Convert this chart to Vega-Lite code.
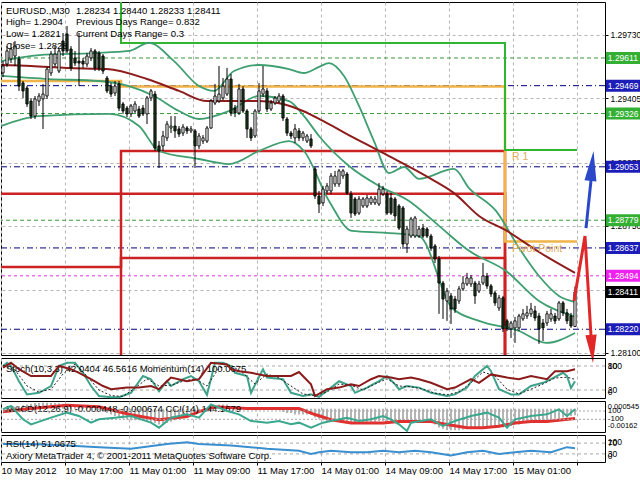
{
"$schema":"https://vega.github.io/schema/vega-lite/v6.json",
"background":"white",
"padding":{"left":-4,"top":1,"right":0,"bottom":0},
"spacing":3,
"bounds":"flush",
"config":{"view":{"stroke":"black","strokeWidth":1},"font":"Liberation Sans","scale":{"continuousPadding":0},"axis":{"labelFont":"Liberation Sans","labelFontSize":9.5,"labelColor":"black","tickColor":"black","gridColor":"#b4b4b4","gridDash":[3,3],"gridWidth":1,"domain":false},"text":{"font":"Liberation Sans","fontSize":9.5}},
"datasets":{
"candles":[
{"i":0,"o":1.29534,"h":1.29595,"l":1.29513,"c":1.29570},{"i":1,"o":1.29580,"h":1.29672,"l":1.29565,"c":1.29647},{"i":2,"o":1.29606,"h":1.29683,"l":1.29585,"c":1.29657},{"i":3,"o":1.29621,"h":1.29698,"l":1.29570,"c":1.29672},{"i":4,"o":1.29606,"h":1.29621,"l":1.29442,"c":1.29467},{"i":5,"o":1.29483,"h":1.29493,"l":1.29406,"c":1.29442},{"i":6,"o":1.29457,"h":1.29467,"l":1.29360,"c":1.29375},{"i":7,"o":1.29390,"h":1.29406,"l":1.29298,"c":1.29313},{"i":8,"o":1.29313,"h":1.29416,"l":1.29298,"c":1.29401},{"i":9,"o":1.29390,"h":1.29431,"l":1.29365,"c":1.29416},
{"i":10,"o":1.29401,"h":1.29478,"l":1.29247,"c":1.29426},{"i":11,"o":1.29416,"h":1.29565,"l":1.29401,"c":1.29554},{"i":12,"o":1.29534,"h":1.29647,"l":1.29519,"c":1.29631},{"i":13,"o":1.29580,"h":1.29672,"l":1.29565,"c":1.29631},{"i":14,"o":1.29544,"h":1.29657,"l":1.29534,"c":1.29647},{"i":15,"o":1.29698,"h":1.29739,"l":1.29621,"c":1.29647},{"i":16,"o":1.29734,"h":1.29775,"l":1.29636,"c":1.29647},{"i":17,"o":1.29657,"h":1.29672,"l":1.29544,"c":1.29560},{"i":18,"o":1.29611,"h":1.29647,"l":1.29570,"c":1.29585},{"i":19,"o":1.29595,"h":1.29739,"l":1.29467,"c":1.29585},
{"i":20,"o":1.29595,"h":1.29611,"l":1.29560,"c":1.29580},{"i":21,"o":1.29580,"h":1.29636,"l":1.29565,"c":1.29621},{"i":22,"o":1.29611,"h":1.29662,"l":1.29595,"c":1.29647},{"i":23,"o":1.29647,"h":1.29657,"l":1.29544,"c":1.29560},{"i":24,"o":1.29636,"h":1.29647,"l":1.29544,"c":1.29560},{"i":25,"o":1.29621,"h":1.29631,"l":1.29529,"c":1.29544},{"i":26,"o":1.29508,"h":1.29519,"l":1.29431,"c":1.29442},{"i":27,"o":1.29467,"h":1.29483,"l":1.29411,"c":1.29426},{"i":28,"o":1.29431,"h":1.29493,"l":1.29416,"c":1.29467},{"i":29,"o":1.29478,"h":1.29493,"l":1.29339,"c":1.29354},
{"i":30,"o":1.29375,"h":1.29385,"l":1.29324,"c":1.29339},{"i":31,"o":1.29354,"h":1.29365,"l":1.29308,"c":1.29324},{"i":32,"o":1.29324,"h":1.29375,"l":1.29308,"c":1.29365},{"i":33,"o":1.29339,"h":1.29390,"l":1.29329,"c":1.29375},{"i":34,"o":1.29349,"h":1.29365,"l":1.29303,"c":1.29313},{"i":35,"o":1.29354,"h":1.29370,"l":1.29313,"c":1.29324},{"i":36,"o":1.29324,"h":1.29416,"l":1.29272,"c":1.29406},{"i":37,"o":1.29406,"h":1.29452,"l":1.29390,"c":1.29442},{"i":38,"o":1.29426,"h":1.29442,"l":1.29134,"c":1.29149},{"i":39,"o":1.29160,"h":1.29185,"l":1.29047,"c":1.29134},
{"i":40,"o":1.29160,"h":1.29237,"l":1.29134,"c":1.29211},{"i":41,"o":1.29201,"h":1.29288,"l":1.29185,"c":1.29272},{"i":42,"o":1.29252,"h":1.29313,"l":1.29226,"c":1.29262},{"i":43,"o":1.29262,"h":1.29313,"l":1.29201,"c":1.29237},{"i":44,"o":1.29247,"h":1.29262,"l":1.29206,"c":1.29221},{"i":45,"o":1.29226,"h":1.29272,"l":1.29211,"c":1.29257},{"i":46,"o":1.29252,"h":1.29262,"l":1.29221,"c":1.29237},{"i":47,"o":1.29237,"h":1.29262,"l":1.29226,"c":1.29247},{"i":48,"o":1.29237,"h":1.29247,"l":1.29047,"c":1.29160},{"i":49,"o":1.29160,"h":1.29226,"l":1.29144,"c":1.29211},
{"i":50,"o":1.29185,"h":1.29216,"l":1.29170,"c":1.29201},{"i":51,"o":1.29185,"h":1.29262,"l":1.29175,"c":1.29252},{"i":52,"o":1.29252,"h":1.29401,"l":1.29247,"c":1.29390},{"i":53,"o":1.29380,"h":1.29478,"l":1.29370,"c":1.29416},{"i":54,"o":1.29390,"h":1.29570,"l":1.29380,"c":1.29426},{"i":55,"o":1.29406,"h":1.29508,"l":1.29395,"c":1.29467},{"i":56,"o":1.29426,"h":1.29560,"l":1.29416,"c":1.29503},{"i":57,"o":1.29503,"h":1.29529,"l":1.29313,"c":1.29329},{"i":58,"o":1.29354,"h":1.29370,"l":1.29308,"c":1.29329},{"i":59,"o":1.29329,"h":1.29478,"l":1.29319,"c":1.29452},
{"i":60,"o":1.29452,"h":1.29467,"l":1.29329,"c":1.29339},{"i":61,"o":1.29339,"h":1.29349,"l":1.29201,"c":1.29247},{"i":62,"o":1.29247,"h":1.29257,"l":1.29185,"c":1.29201},{"i":63,"o":1.29211,"h":1.29349,"l":1.29201,"c":1.29339},{"i":64,"o":1.29339,"h":1.29483,"l":1.29329,"c":1.29442},{"i":65,"o":1.29426,"h":1.29570,"l":1.29411,"c":1.29452},{"i":66,"o":1.29442,"h":1.29457,"l":1.29334,"c":1.29349},{"i":67,"o":1.29349,"h":1.29395,"l":1.29339,"c":1.29380},{"i":68,"o":1.29380,"h":1.29416,"l":1.29370,"c":1.29406},{"i":69,"o":1.29390,"h":1.29431,"l":1.29380,"c":1.29416},
{"i":70,"o":1.29416,"h":1.29426,"l":1.29288,"c":1.29303},{"i":71,"o":1.29298,"h":1.29308,"l":1.29211,"c":1.29226},{"i":72,"o":1.29226,"h":1.29237,"l":1.29196,"c":1.29211},{"i":73,"o":1.29201,"h":1.29272,"l":1.29175,"c":1.29247},{"i":74,"o":1.29237,"h":1.29252,"l":1.29185,"c":1.29201},{"i":75,"o":1.29201,"h":1.29237,"l":1.29185,"c":1.29226},{"i":76,"o":1.29185,"h":1.29221,"l":1.29175,"c":1.29211},{"i":77,"o":1.29196,"h":1.29221,"l":1.29149,"c":1.29160},{"i":78,"o":1.29042,"h":1.29052,"l":1.28888,"c":1.28903},{"i":79,"o":1.28903,"h":1.28929,"l":1.28816,"c":1.28862},
{"i":80,"o":1.28868,"h":1.28955,"l":1.28852,"c":1.28939},{"i":81,"o":1.28929,"h":1.28970,"l":1.28914,"c":1.28955},{"i":82,"o":1.28929,"h":1.29021,"l":1.28914,"c":1.29006},{"i":83,"o":1.28965,"h":1.29032,"l":1.28950,"c":1.29006},{"i":84,"o":1.28965,"h":1.29042,"l":1.28950,"c":1.29032},{"i":85,"o":1.29006,"h":1.29042,"l":1.28991,"c":1.29032},{"i":86,"o":1.29016,"h":1.29026,"l":1.28909,"c":1.28919},{"i":87,"o":1.28914,"h":1.28929,"l":1.28791,"c":1.28816},{"i":88,"o":1.28888,"h":1.28898,"l":1.28801,"c":1.28811},{"i":89,"o":1.28816,"h":1.28903,"l":1.28806,"c":1.28888},
{"i":90,"o":1.28852,"h":1.28898,"l":1.28842,"c":1.28888},{"i":91,"o":1.28852,"h":1.28909,"l":1.28842,"c":1.28893},{"i":92,"o":1.28868,"h":1.28903,"l":1.28857,"c":1.28893},{"i":93,"o":1.28868,"h":1.28903,"l":1.28857,"c":1.28888},{"i":94,"o":1.28862,"h":1.28970,"l":1.28852,"c":1.28939},{"i":95,"o":1.28914,"h":1.28955,"l":1.28903,"c":1.28939},{"i":96,"o":1.28914,"h":1.28929,"l":1.28806,"c":1.28816},{"i":97,"o":1.28893,"h":1.28919,"l":1.28806,"c":1.28816},{"i":98,"o":1.28888,"h":1.28898,"l":1.28775,"c":1.28801},{"i":99,"o":1.28852,"h":1.28862,"l":1.28729,"c":1.28739},
{"i":100,"o":1.28842,"h":1.28852,"l":1.28632,"c":1.28657},{"i":101,"o":1.28657,"h":1.28750,"l":1.28611,"c":1.28734},{"i":102,"o":1.28698,"h":1.28796,"l":1.28688,"c":1.28785},{"i":103,"o":1.28698,"h":1.28801,"l":1.28688,"c":1.28791},{"i":104,"o":1.28698,"h":1.28750,"l":1.28688,"c":1.28734},{"i":105,"o":1.28739,"h":1.28760,"l":1.28688,"c":1.28698},{"i":106,"o":1.28734,"h":1.28744,"l":1.28688,"c":1.28698},{"i":107,"o":1.28698,"h":1.28709,"l":1.28622,"c":1.28637},{"i":108,"o":1.28647,"h":1.28657,"l":1.28560,"c":1.28581},{"i":109,"o":1.28581,"h":1.28596,"l":1.28299,"c":1.28457},
{"i":110,"o":1.28457,"h":1.28468,"l":1.28273,"c":1.28375},{"i":111,"o":1.28365,"h":1.28432,"l":1.28263,"c":1.28416},{"i":112,"o":1.28391,"h":1.28406,"l":1.28247,"c":1.28324},{"i":113,"o":1.28375,"h":1.28391,"l":1.28304,"c":1.28324},{"i":114,"o":1.28365,"h":1.28442,"l":1.28350,"c":1.28427},{"i":115,"o":1.28427,"h":1.28493,"l":1.28416,"c":1.28457},{"i":116,"o":1.28452,"h":1.28509,"l":1.28442,"c":1.28483},{"i":117,"o":1.28452,"h":1.28498,"l":1.28437,"c":1.28483},{"i":118,"o":1.28457,"h":1.28468,"l":1.28350,"c":1.28391},{"i":119,"o":1.28416,"h":1.28468,"l":1.28406,"c":1.28452},
{"i":120,"o":1.28457,"h":1.28560,"l":1.28447,"c":1.28493},{"i":121,"o":1.28493,"h":1.28509,"l":1.28427,"c":1.28442},{"i":122,"o":1.28442,"h":1.28452,"l":1.28386,"c":1.28401},{"i":123,"o":1.28406,"h":1.28416,"l":1.28340,"c":1.28355},{"i":124,"o":1.28329,"h":1.28396,"l":1.28314,"c":1.28381},{"i":125,"o":1.28381,"h":1.28391,"l":1.28206,"c":1.28222},{"i":126,"o":1.28263,"h":1.28273,"l":1.28211,"c":1.28222},{"i":127,"o":1.28222,"h":1.28263,"l":1.28175,"c":1.28252},{"i":128,"o":1.28227,"h":1.28283,"l":1.28150,"c":1.28263},{"i":129,"o":1.28227,"h":1.28299,"l":1.28211,"c":1.28288},
{"i":130,"o":1.28273,"h":1.28324,"l":1.28263,"c":1.28299},{"i":131,"o":1.28288,"h":1.28340,"l":1.28273,"c":1.28304},{"i":132,"o":1.28299,"h":1.28355,"l":1.28283,"c":1.28324},{"i":133,"o":1.28314,"h":1.28340,"l":1.28263,"c":1.28278},{"i":134,"o":1.28288,"h":1.28304,"l":1.28145,"c":1.28222},{"i":135,"o":1.28252,"h":1.28273,"l":1.28160,"c":1.28227},{"i":136,"o":1.28252,"h":1.28314,"l":1.28237,"c":1.28299},{"i":137,"o":1.28273,"h":1.28324,"l":1.28258,"c":1.28299},{"i":138,"o":1.28288,"h":1.28304,"l":1.28247,"c":1.28263},{"i":139,"o":1.28273,"h":1.28365,"l":1.28263,"c":1.28355},
{"i":140,"o":1.28355,"h":1.28365,"l":1.28288,"c":1.28304},{"i":141,"o":1.28304,"h":1.28324,"l":1.28247,"c":1.28263},{"i":142,"o":1.28288,"h":1.28304,"l":1.28227,"c":1.28237},{"i":143,"o":1.28234,"h":1.28440,"l":1.28233,"c":1.28411}
],
"tags":[{"p":1.29611,"k":"green"},{"p":1.29469,"k":"navy"},{"p":1.29326,"k":"green"},{"p":1.29053,"k":"navy"},{"p":1.28779,"k":"green"},{"p":1.28637,"k":"navy"},{"p":1.28494,"k":"magenta"},{"p":1.28411,"k":"black"},{"p":1.28220,"k":"navy"}],
"pivots":[
{"lvl":"R1","i":-0.5,"p":1.3010},{"lvl":"R1","i":29.5,"p":1.29688},{"lvl":"R1","i":125.5,"p":1.29139},{"lvl":"R1","i":143.5,"p":1.29139},
{"lvl":"PP","i":-0.5,"p":1.29493},{"lvl":"PP","i":29.5,"p":1.29465},{"lvl":"PP","i":125.5,"p":1.28670},{"lvl":"PP","i":143.5,"p":1.28670},
{"lvl":"S1","i":-0.5,"p":1.28915},{"lvl":"S1","i":29.5,"p":1.29134},{"lvl":"S1","i":125.5,"p":1.2795},{"lvl":"S1","i":143.5,"p":1.2795},
{"lvl":"S2","i":-0.5,"p":1.28539},{"lvl":"S2","i":29.5,"p":1.28915},{"lvl":"S2","i":125.5,"p":1.2775},{"lvl":"S2","i":143.5,"p":1.2775},
{"lvl":"S3","i":-0.5,"p":1.2790},{"lvl":"S3","i":29.5,"p":1.28586},{"lvl":"S3","i":125.5,"p":1.2755},{"lvl":"S3","i":143.5,"p":1.2755}
],
"bands":[
{"s":"U","i":-0.5,"p":1.29595},{"s":"U","i":9,"p":1.29626},{"s":"U","i":22.75,"p":1.29636},{"s":"U","i":31.5,"p":1.29647},{"s":"U","i":36.5,"p":1.29688},{"s":"U","i":42.75,"p":1.29595},{"s":"U","i":49,"p":1.29467},{"s":"U","i":52.75,"p":1.29442},{"s":"U","i":57.75,"p":1.29544},{"s":"U","i":64,"p":1.29575},{"s":"U","i":71.5,"p":1.29554},{"s":"U","i":75.25,"p":1.29534},{"s":"U","i":79,"p":1.29565},{"s":"U","i":81.5,"p":1.29585},{"s":"U","i":85.25,"p":1.29519},{"s":"U","i":89,"p":1.29365},{"s":"U","i":92.75,"p":1.29185},{"s":"U","i":96.5,"p":1.29021},{"s":"U","i":100.25,"p":1.29052},{"s":"U","i":104,"p":1.28991},{"s":"U","i":112.75,"p":1.29042},{"s":"U","i":116.5,"p":1.28944},{"s":"U","i":123.25,"p":1.28827},{"s":"U","i":129,"p":1.28637},{"s":"U","i":134,"p":1.28493},{"s":"U","i":139,"p":1.28391},{"s":"U","i":143,"p":1.28360},
{"s":"M","i":-0.5,"p":1.29519},{"s":"M","i":11.5,"p":1.29503},{"s":"M","i":24,"p":1.29493},{"s":"M","i":31.5,"p":1.29467},{"s":"M","i":37.75,"p":1.29416},{"s":"M","i":44,"p":1.29339},{"s":"M","i":49,"p":1.29298},{"s":"M","i":56.5,"p":1.29339},{"s":"M","i":64,"p":1.29416},{"s":"M","i":71.5,"p":1.29390},{"s":"M","i":75.25,"p":1.29313},{"s":"M","i":79,"p":1.29211},{"s":"M","i":86.5,"p":1.29057},{"s":"M","i":94,"p":1.28955},{"s":"M","i":101.5,"p":1.28878},{"s":"M","i":109,"p":1.28750},{"s":"M","i":116.5,"p":1.28622},{"s":"M","i":125.75,"p":1.28519},{"s":"M","i":134,"p":1.28365},{"s":"M","i":143,"p":1.28285},
{"s":"L","i":-0.5,"p":1.29262},{"s":"L","i":9,"p":1.29313},{"s":"L","i":26.5,"p":1.29324},{"s":"L","i":34,"p":1.29262},{"s":"L","i":39,"p":1.29134},{"s":"L","i":49,"p":1.29093},{"s":"L","i":56.5,"p":1.29067},{"s":"L","i":64,"p":1.29134},{"s":"L","i":71.5,"p":1.29185},{"s":"L","i":75.25,"p":1.29134},{"s":"L","i":81.5,"p":1.28878},{"s":"L","i":87.25,"p":1.28724},{"s":"L","i":95.75,"p":1.28714},{"s":"L","i":104,"p":1.28698},{"s":"L","i":112.25,"p":1.28329},{"s":"L","i":119,"p":1.28263},{"s":"L","i":129,"p":1.28211},{"s":"L","i":135.75,"p":1.28150},{"s":"L","i":143,"p":1.28201}
],
"ma":[{"i":-0.5,"p":1.29575},{"i":7,"p":1.29570},{"i":16,"p":1.29560},{"i":26,"p":1.29554},{"i":36,"p":1.29503},{"i":44,"p":1.29442},{"i":51,"p":1.29390},{"i":64,"p":1.29390},{"i":70,"p":1.29375},{"i":75,"p":1.29339},{"i":80,"p":1.29288},{"i":86,"p":1.29221},{"i":95,"p":1.29124},{"i":107,"p":1.28991},{"i":113,"p":1.28914},{"i":119,"p":1.28801},{"i":126,"p":1.28724},{"i":134,"p":1.28616},{"i":143,"p":1.28509}],
"arr":[{"a":"red","n":1,"i":142.75,"p":1.28365},{"a":"red","n":2,"i":145.5,"p":1.28698},{"a":"red","n":3,"i":147,"p":1.28186},{"a":"blue","n":1,"i":145.75,"p":1.28739},{"a":"blue","n":2,"i":147.25,"p":1.29032}],
"heads":[{"a":"red","i":147.25,"p":1.28119},{"a":"blue","i":147.25,"p":1.29057}],
"stoch":[{"i":0,"v":80},{"i":1,"v":88},{"i":2,"v":80},{"i":4,"v":42},{"i":6,"v":9},{"i":9,"v":13},{"i":12,"v":30},{"i":14,"v":80},{"i":16,"v":88},{"i":18,"v":88},{"i":20,"v":63},{"i":22,"v":30},{"i":24,"v":5},{"i":27,"v":2},{"i":29,"v":2},{"i":32,"v":13},{"i":35,"v":55},{"i":37,"v":47},{"i":39,"v":17},{"i":41,"v":42},{"i":42,"v":30},{"i":45,"v":47},{"i":47,"v":55},{"i":49,"v":42},{"i":51,"v":8},{"i":53,"v":88},{"i":55,"v":88},{"i":57,"v":80},{"i":58,"v":63},{"i":61,"v":55},{"i":62,"v":13},{"i":65,"v":72},{"i":66,"v":51},{"i":70,"v":47},{"i":72,"v":13},{"i":75,"v":5},{"i":77,"v":9},{"i":79,"v":3},{"i":82,"v":26},{"i":84,"v":42},{"i":87,"v":30},{"i":88,"v":13},{"i":91,"v":26},{"i":94,"v":42},{"i":96,"v":55},{"i":98,"v":34},{"i":99,"v":22},{"i":101,"v":30},{"i":104,"v":26},{"i":107,"v":13},{"i":111,"v":5},{"i":113,"v":9},{"i":116,"v":26},{"i":118,"v":55},{"i":121,"v":80},{"i":122,"v":67},{"i":124,"v":22},{"i":127,"v":9},{"i":129,"v":9},{"i":132,"v":30},{"i":135,"v":38},{"i":137,"v":47},{"i":140,"v":63},{"i":141,"v":55},{"i":142,"v":25},{"i":143,"v":42}],
"ssig":[{"i":0,"v":82},{"i":3,"v":70},{"i":6,"v":30},{"i":9,"v":15},{"i":12,"v":22},{"i":15,"v":60},{"i":18,"v":85},{"i":21,"v":55},{"i":24,"v":20},{"i":27,"v":6},{"i":30,"v":4},{"i":33,"v":25},{"i":36,"v":48},{"i":39,"v":30},{"i":42,"v":32},{"i":45,"v":42},{"i":48,"v":48},{"i":51,"v":30},{"i":54,"v":75},{"i":57,"v":82},{"i":60,"v":62},{"i":63,"v":35},{"i":66,"v":60},{"i":69,"v":50},{"i":72,"v":30},{"i":75,"v":10},{"i":78,"v":6},{"i":81,"v":15},{"i":84,"v":35},{"i":87,"v":32},{"i":90,"v":20},{"i":93,"v":35},{"i":96,"v":48},{"i":99,"v":30},{"i":102,"v":28},{"i":105,"v":22},{"i":108,"v":12},{"i":111,"v":8},{"i":114,"v":15},{"i":117,"v":38},{"i":120,"v":65},{"i":123,"v":55},{"i":126,"v":22},{"i":129,"v":10},{"i":132,"v":22},{"i":135,"v":35},{"i":138,"v":50},{"i":141,"v":52},{"i":143,"v":46.6}],
"mom":[{"i":0,"m":100.208},{"i":2,"m":100.304},{"i":4,"m":100.176},{"i":7,"m":100.04},{"i":9,"m":100.04},{"i":12,"m":100.04},{"i":14,"m":100.24},{"i":17,"m":100.176},{"i":19,"m":100.104},{"i":22,"m":99.976},{"i":25,"m":99.84},{"i":27,"m":99.776},{"i":31,"m":99.808},{"i":34,"m":99.808},{"i":37,"m":99.84},{"i":39,"m":99.776},{"i":41,"m":99.936},{"i":42,"m":100.008},{"i":46,"m":99.936},{"i":49,"m":99.976},{"i":52,"m":100.304},{"i":56,"m":100.272},{"i":57,"m":100.176},{"i":59,"m":100.136},{"i":62,"m":100.104},{"i":66,"m":100.04},{"i":69,"m":100.04},{"i":72,"m":100.04},{"i":74,"m":100.12},{"i":77,"m":99.872},{"i":78,"m":99.64},{"i":81,"m":99.776},{"i":84,"m":99.808},{"i":87,"m":99.872},{"i":89,"m":99.84},{"i":92,"m":99.976},{"i":94,"m":100.04},{"i":97,"m":100.008},{"i":99,"m":99.976},{"i":102,"m":100.008},{"i":104,"m":99.976},{"i":107,"m":99.904},{"i":111,"m":99.776},{"i":113,"m":99.808},{"i":117,"m":99.976},{"i":119,"m":99.904},{"i":122,"m":100.072},{"i":126,"m":100.008},{"i":129,"m":99.976},{"i":132,"m":100.04},{"i":136,"m":99.976},{"i":138,"m":100.136},{"i":141,"m":100.136},{"i":143,"m":100.176}],
"macd":[{"i":0,"m":0},{"i":1,"m":0.00005},{"i":2,"m":0.0001},{"i":3,"m":0.00015},{"i":4,"m":0.0002},{"i":5,"m":0.00025},{"i":6,"m":0.0003},{"i":7,"m":0.00035},{"i":8,"m":0.0004},{"i":9,"m":0.0004},{"i":10,"m":0.00042},{"i":11,"m":0.00042},{"i":12,"m":0.0004},{"i":13,"m":0.0004},{"i":14,"m":0.00038},{"i":15,"m":0.00035},{"i":16,"m":0.0003},{"i":17,"m":0.00025},{"i":18,"m":0.0002},{"i":19,"m":0.00015},{"i":20,"m":0.0001},{"i":21,"m":0.00005},{"i":22,"m":0},{"i":23,"m":-0.00005},{"i":24,"m":-0.0001},{"i":25,"m":-0.0002},{"i":26,"m":-0.0003},{"i":27,"m":-0.0004},{"i":28,"m":-0.0005},{"i":29,"m":-0.0006},{"i":30,"m":-0.0007},{"i":31,"m":-0.00075},{"i":32,"m":-0.0008},{"i":33,"m":-0.0008},{"i":34,"m":-0.0008},{"i":35,"m":-0.00085},{"i":36,"m":-0.0009},{"i":37,"m":-0.0009},{"i":38,"m":-0.001},{"i":39,"m":-0.0011},{"i":40,"m":-0.00105},{"i":41,"m":-0.001},{"i":42,"m":-0.0009},{"i":43,"m":-0.0008},{"i":44,"m":-0.0007},{"i":45,"m":-0.0006},{"i":46,"m":-0.0005},{"i":47,"m":-0.0004},{"i":48,"m":-0.0003},{"i":49,"m":-0.0002},{"i":50,"m":-0.0001},{"i":51,"m":0},{"i":52,"m":0.0001},{"i":53,"m":0.0002},{"i":54,"m":0.0003},{"i":55,"m":0.0003},{"i":56,"m":0.0003},{"i":57,"m":0.0002},{"i":58,"m":0.0002},{"i":59,"m":0.0002},{"i":60,"m":0.0001},{"i":61,"m":0.0001},{"i":62,"m":0},{"i":63,"m":-0.0001},{"i":64,"m":0},{"i":65,"m":0.0001},{"i":66,"m":0.0001},{"i":67,"m":0},{"i":68,"m":0},{"i":69,"m":-0.0001},{"i":70,"m":-0.0002},{"i":71,"m":-0.0003},{"i":72,"m":-0.0003},{"i":73,"m":-0.0004},{"i":74,"m":-0.0004},{"i":75,"m":-0.0004},{"i":76,"m":-0.0004},{"i":77,"m":-0.0004},{"i":78,"m":-0.0006},{"i":79,"m":-0.0007},{"i":80,"m":-0.0008},{"i":81,"m":-0.0009},{"i":82,"m":-0.0009},{"i":83,"m":-0.0009},{"i":84,"m":-0.0009},{"i":85,"m":-0.0009},{"i":86,"m":-0.001},{"i":87,"m":-0.001},{"i":88,"m":-0.001},{"i":89,"m":-0.001},{"i":90,"m":-0.00095},{"i":91,"m":-0.0009},{"i":92,"m":-0.0009},{"i":93,"m":-0.0009},{"i":94,"m":-0.00085},{"i":95,"m":-0.00085},{"i":96,"m":-0.0009},{"i":97,"m":-0.0009},{"i":98,"m":-0.0009},{"i":99,"m":-0.001},{"i":100,"m":-0.001},{"i":101,"m":-0.001},{"i":102,"m":-0.00095},{"i":103,"m":-0.0009},{"i":104,"m":-0.0009},{"i":105,"m":-0.0009},{"i":106,"m":-0.0009},{"i":107,"m":-0.001},{"i":108,"m":-0.0011},{"i":109,"m":-0.0013},{"i":110,"m":-0.0014},{"i":111,"m":-0.0015},{"i":112,"m":-0.0015},{"i":113,"m":-0.0015},{"i":114,"m":-0.0015},{"i":115,"m":-0.00145},{"i":116,"m":-0.0014},{"i":117,"m":-0.0014},{"i":118,"m":-0.0014},{"i":119,"m":-0.0013},{"i":120,"m":-0.0013},{"i":121,"m":-0.0012},{"i":122,"m":-0.0012},{"i":123,"m":-0.0012},{"i":124,"m":-0.0012},{"i":125,"m":-0.0013},{"i":126,"m":-0.0013},{"i":127,"m":-0.0012},{"i":128,"m":-0.0011},{"i":129,"m":-0.0011},{"i":130,"m":-0.001},{"i":131,"m":-0.001},{"i":132,"m":-0.0009},{"i":133,"m":-0.0009},{"i":134,"m":-0.0009},{"i":135,"m":-0.0009},{"i":136,"m":-0.0008},{"i":137,"m":-0.0008},{"i":138,"m":-0.0007},{"i":139,"m":-0.0007},{"i":140,"m":-0.0006},{"i":141,"m":-0.0006},{"i":142,"m":-0.0005},{"i":143,"m":-0.000448}],
"msig":[{"i":0,"v":-0.0002},{"i":7,"v":0.00002},{"i":16,"v":0.00025},{"i":24,"v":0.00014},{"i":32,"v":-0.00042},{"i":39,"v":-0.00076},{"i":46,"v":-0.00054},{"i":49,"v":-0.0002},{"i":53,"v":0.00014},{"i":61,"v":0.00002},{"i":74,"v":0.00002},{"i":78,"v":-0.0004},{"i":82,"v":-0.00076},{"i":87,"v":-0.00099},{"i":95,"v":-0.00099},{"i":99,"v":-0.00088},{"i":107,"v":-0.00088},{"i":111,"v":-0.0011},{"i":116,"v":-0.00133},{"i":120,"v":-0.00133},{"i":124,"v":-0.00122},{"i":128,"v":-0.00099},{"i":132,"v":-0.00088},{"i":136,"v":-0.00088},{"i":140,"v":-0.00076},{"i":143,"v":-0.000674}],
"cci":[{"i":0,"v":141},{"i":2,"v":220},{"i":5,"v":-100},{"i":7,"v":-220},{"i":12,"v":-60},{"i":16,"v":60},{"i":19,"v":-20},{"i":22,"v":-180},{"i":24,"v":-100},{"i":28,"v":-60},{"i":32,"v":-20},{"i":37,"v":-180},{"i":39,"v":-300},{"i":42,"v":-60},{"i":46,"v":20},{"i":49,"v":-60},{"i":52,"v":260},{"i":56,"v":100},{"i":59,"v":20},{"i":62,"v":-140},{"i":66,"v":-180},{"i":69,"v":-140},{"i":72,"v":-220},{"i":74,"v":-180},{"i":77,"v":-300},{"i":80,"v":-180},{"i":82,"v":-140},{"i":86,"v":-60},{"i":89,"v":-140},{"i":92,"v":-100},{"i":95,"v":-20},{"i":97,"v":-100},{"i":99,"v":-220},{"i":101,"v":-380},{"i":102,"v":-180},{"i":107,"v":-100},{"i":110,"v":-260},{"i":113,"v":-140},{"i":117,"v":-20},{"i":121,"v":60},{"i":124,"v":-60},{"i":126,"v":-300},{"i":128,"v":-100},{"i":132,"v":-20},{"i":136,"v":20},{"i":139,"v":140},{"i":141,"v":-20},{"i":143,"v":144.17}],
"rsi":[{"i":0,"v":67},{"i":7,"v":67},{"i":16,"v":61},{"i":24,"v":55},{"i":32,"v":49},{"i":41,"v":67},{"i":46,"v":73},{"i":49,"v":67},{"i":57,"v":61},{"i":66,"v":49},{"i":74,"v":42},{"i":77,"v":30},{"i":79,"v":36},{"i":82,"v":42},{"i":87,"v":36},{"i":91,"v":36},{"i":95,"v":42},{"i":99,"v":36},{"i":103,"v":42},{"i":107,"v":36},{"i":112,"v":24},{"i":116,"v":36},{"i":120,"v":42},{"i":124,"v":30},{"i":128,"v":36},{"i":132,"v":42},{"i":137,"v":36},{"i":141,"v":55},{"i":143,"v":51.07}],
"stochlv":[{"v":80},{"v":20}],
"ccilv":[{"v":100},{"v":-100}],
"rsilv":[{"v":70},{"v":30}]
},
"vconcat":[
{"width":604,"height":353,
"layer":[
{"data":{"name":"tags"},"transform":[{"filter":"datum.k=='navy'"}],"mark":{"type":"rule","color":"#000080","strokeWidth":1,"strokeDash":[6,3,1,3]},"encoding":{"y":{"field":"p","type":"quantitative","title":null,"scale":{"domain":[1.28088,1.29898],"nice":false,"zero":false,"padding":0},"axis":{"orient":"right","values":[1.281,1.2826,1.2842,1.28585,1.2875,1.28915,1.29075,1.2924,1.29405,1.29565,1.2973],"format":".5f","grid":true,"tickSize":3,"labelPadding":2,"labelFontSize":8.5}}}},
{"data":{"name":"tags"},"transform":[{"filter":"datum.k=='green'"}],"mark":{"type":"rule","color":"#3a9a3a","strokeWidth":1,"strokeDash":[4,3]},"encoding":{"y":{"field":"p","type":"quantitative","title":null}}},
{"data":{"name":"tags"},"transform":[{"filter":"datum.k=='magenta'"}],"mark":{"type":"rule","color":"#e030e0","strokeWidth":1,"strokeDash":[3,3]},"encoding":{"y":{"field":"p","type":"quantitative","title":null}}},
{"data":{"name":"pivots"},"transform":[{"filter":"datum.lvl=='S1'||datum.lvl=='S2'||datum.lvl=='S3'"}],"mark":{"type":"line","color":"#cc2222","strokeWidth":2.5,"interpolate":"step-after","clip":true},"encoding":{"x":{"field":"i","type":"quantitative","title":null,"scale":{"domain":[-0.5,150.5],"nice":false,"zero":false,"padding":0},"axis":{"values":[-0.5,7.5,15.5,23.5,31.5,39.5,47.5,55.5,63.5,71.5,79.5,87.5,95.5,103.5,111.5,119.5,127.5,135.5,143.5],"labels":false,"ticks":false,"grid":true}},"y":{"field":"p","type":"quantitative","title":null},"detail":{"field":"lvl"}}},
{"data":{"name":"pivots"},"transform":[{"filter":"datum.lvl=='PP'"}],"mark":{"type":"line","color":"#f0b448","strokeWidth":2.5,"interpolate":"step-after","clip":true},"encoding":{"x":{"field":"i","type":"quantitative","title":null},"y":{"field":"p","type":"quantitative","title":null}}},
{"data":{"name":"pivots"},"transform":[{"filter":"datum.lvl=='R1'"}],"mark":{"type":"line","color":"#2fb52f","strokeWidth":2,"interpolate":"step-after","clip":true},"encoding":{"x":{"field":"i","type":"quantitative","title":null},"y":{"field":"p","type":"quantitative","title":null}}},
{"data":{"name":"bands"},"mark":{"type":"line","color":"#3f9f70","strokeWidth":1.8,"interpolate":"monotone","clip":true},"encoding":{"x":{"field":"i","type":"quantitative","title":null},"y":{"field":"p","type":"quantitative","title":null},"detail":{"field":"s"}}},
{"data":{"name":"ma"},"mark":{"type":"line","color":"#8e1c1c","strokeWidth":2,"interpolate":"monotone","clip":true},"encoding":{"x":{"field":"i","type":"quantitative","title":null},"y":{"field":"p","type":"quantitative","title":null}}},
{"data":{"name":"candles"},"mark":{"type":"rule","color":"black","strokeWidth":1},"encoding":{"x":{"field":"i","type":"quantitative","title":null},"y":{"field":"l","type":"quantitative","title":null},"y2":{"field":"h"}}},
{"data":{"name":"candles"},"mark":{"type":"bar","width":2.2,"stroke":"black","strokeWidth":0.9},"encoding":{"x":{"field":"i","type":"quantitative","title":null},"y":{"field":"o","type":"quantitative","title":null},"y2":{"field":"c"},"fill":{"condition":{"test":"datum.c >= datum.o","value":"white"},"value":"#1c3a1c"}}},
{"data":{"name":"tags"},"mark":{"type":"rect","yOffset":-6,"y2Offset":6,"clip":false},"encoding":{"x":{"datum":150.7,"type":"quantitative","title":null},"x2":{"datum":159.5},"y":{"field":"p","type":"quantitative","title":null},"y2":{"field":"p"},"fill":{"condition":[{"test":"datum.k=='green'","value":"#33b033"},{"test":"datum.k=='navy'","value":"#1c1cb8"},{"test":"datum.k=='magenta'","value":"#ee22ee"}],"value":"black"}}},
{"data":{"name":"tags"},"mark":{"type":"text","align":"left","baseline":"middle","color":"white","fontSize":8.5},"encoding":{"x":{"datum":151.2,"type":"quantitative","title":null},"y":{"field":"p","type":"quantitative","title":null},"text":{"field":"p","type":"quantitative","format":".5f"}}},
{"data":{"values":[{}]},"mark":{"type":"text","text":"EURUSD.,M30","align":"left","baseline":"middle","color":"black"},"encoding":{"x":{"datum":0.75,"type":"quantitative","title":null},"y":{"datum":1.29852,"type":"quantitative","title":null}}},
{"data":{"values":[{}]},"mark":{"type":"text","text":"1.28234 1.28440 1.28233 1.28411","align":"left","baseline":"middle","color":"black"},"encoding":{"x":{"datum":18.25,"type":"quantitative","title":null},"y":{"datum":1.29852,"type":"quantitative","title":null}}},
{"data":{"values":[{}]},"mark":{"type":"text","text":"High= 1.2904","align":"left","baseline":"middle","color":"black"},"encoding":{"x":{"datum":0.75,"type":"quantitative","title":null},"y":{"datum":1.29795,"type":"quantitative","title":null}}},
{"data":{"values":[{}]},"mark":{"type":"text","text":"Previous Days Range= 0.832","align":"left","baseline":"middle","color":"black"},"encoding":{"x":{"datum":18.25,"type":"quantitative","title":null},"y":{"datum":1.29795,"type":"quantitative","title":null}}},
{"data":{"values":[{}]},"mark":{"type":"text","text":"Low= 1.2821","align":"left","baseline":"middle","color":"black"},"encoding":{"x":{"datum":0.75,"type":"quantitative","title":null},"y":{"datum":1.29734,"type":"quantitative","title":null}}},
{"data":{"values":[{}]},"mark":{"type":"text","text":"Current Days Range= 0.3","align":"left","baseline":"middle","color":"black"},"encoding":{"x":{"datum":18.25,"type":"quantitative","title":null},"y":{"datum":1.29734,"type":"quantitative","title":null}}},
{"data":{"values":[{}]},"mark":{"type":"text","text":"Close= 1.2828","align":"left","baseline":"middle","color":"black"},"encoding":{"x":{"datum":0.75,"type":"quantitative","title":null},"y":{"datum":1.29673,"type":"quantitative","title":null}}},
{"data":{"values":[{}]},"mark":{"type":"text","text":"R 1","align":"left","baseline":"middle","color":"#e3ad5c","fontSize":10.5},"encoding":{"x":{"datum":127.25,"type":"quantitative","title":null},"y":{"datum":1.29103,"type":"quantitative","title":null}}},
{"data":{"values":[{}]},"mark":{"type":"text","text":"Pivot Point","align":"left","baseline":"middle","color":"#e3ad5c","fontSize":10.5},"encoding":{"x":{"datum":127.25,"type":"quantitative","title":null},"y":{"datum":1.28632,"type":"quantitative","title":null}}},
{"data":{"name":"arr"},"transform":[{"filter":"datum.a=='red'"}],"mark":{"type":"line","color":"#e02828","strokeWidth":3,"clip":false},"encoding":{"x":{"field":"i","type":"quantitative","title":null},"y":{"field":"p","type":"quantitative","title":null},"order":{"field":"n"}}},
{"data":{"name":"arr"},"transform":[{"filter":"datum.a=='blue'"}],"mark":{"type":"line","color":"#2a48c8","strokeWidth":3,"clip":false},"encoding":{"x":{"field":"i","type":"quantitative","title":null},"y":{"field":"p","type":"quantitative","title":null},"order":{"field":"n"}}},
{"data":{"name":"heads"},"transform":[{"filter":"datum.a=='red'"}],"mark":{"type":"point","shape":"M 0 1 L 0.4 -1 L -0.4 -1 Z","filled":true,"color":"#e02828","opacity":1,"size":800,"angle":-4,"clip":false},"encoding":{"x":{"field":"i","type":"quantitative","title":null},"y":{"field":"p","type":"quantitative","title":null}}},
{"data":{"name":"heads"},"transform":[{"filter":"datum.a=='blue'"}],"mark":{"type":"point","shape":"M 0 -1 L 0.4 1 L -0.4 1 Z","filled":true,"color":"#2a48c8","opacity":1,"size":900,"angle":6,"clip":false},"encoding":{"x":{"field":"i","type":"quantitative","title":null},"y":{"field":"p","type":"quantitative","title":null}}}
]},
{"width":604,"height":40,
"layer":[
{"layer":[
{"data":{"name":"stochlv"},"mark":{"type":"rule","color":"#a8a8a8","strokeDash":[3,3]},"encoding":{"y":{"field":"v","type":"quantitative","title":null,"scale":{"domain":[0,100],"nice":false},"axis":null}}},
{"data":{"name":"stoch"},"mark":{"type":"line","color":"#3fa38c","strokeWidth":2},"encoding":{"x":{"field":"i","type":"quantitative","title":null,"scale":{"domain":[-0.5,150.5],"nice":false,"zero":false,"padding":0},"axis":{"values":[-0.5,7.5,15.5,23.5,31.5,39.5,47.5,55.5,63.5,71.5,79.5,87.5,95.5,103.5,111.5,119.5,127.5,135.5,143.5],"labels":false,"ticks":false,"grid":true}},"y":{"field":"v","type":"quantitative","title":null,"axis":null}}},
{"data":{"name":"ssig"},"mark":{"type":"line","color":"#202020","strokeWidth":1,"strokeDash":[2,2]},"encoding":{"x":{"field":"i","type":"quantitative","title":null},"y":{"field":"v","type":"quantitative","title":null,"axis":null}}},
{"data":{"values":[{}]},"mark":{"type":"text","text":"Stoch(10,3,3) 42.0404 46.5616  Momentum(14) 100.0675","align":"left","baseline":"middle","color":"black"},"encoding":{"x":{"datum":0.75,"type":"quantitative","title":null},"y":{"datum":73,"type":"quantitative","axis":null}}},
{"data":{"values":[{}]},"mark":{"type":"text","text":"100","align":"left","baseline":"middle","dy":8,"fontSize":8.5,"color":"black"},"encoding":{"x":{"datum":151.2,"type":"quantitative","title":null},"y":{"datum":100,"type":"quantitative","axis":null}}},
{"data":{"values":[{}]},"mark":{"type":"text","text":"80","align":"left","baseline":"middle","fontSize":8.5,"color":"black"},"encoding":{"x":{"datum":151.2,"type":"quantitative","title":null},"y":{"datum":80,"type":"quantitative","axis":null}}},
{"data":{"values":[{}]},"mark":{"type":"text","text":"20","align":"left","baseline":"middle","fontSize":8.5,"color":"black"},"encoding":{"x":{"datum":151.2,"type":"quantitative","title":null},"y":{"datum":20,"type":"quantitative","axis":null}}},
{"data":{"values":[{}]},"mark":{"type":"text","text":"0","align":"left","baseline":"middle","dy":-6,"fontSize":8.5,"color":"black"},"encoding":{"x":{"datum":151.2,"type":"quantitative","title":null},"y":{"datum":0,"type":"quantitative","axis":null}}}
]},
{"data":{"name":"mom"},"mark":{"type":"line","color":"#8b1a1a","strokeWidth":2},"encoding":{"x":{"field":"i","type":"quantitative","title":null},"y":{"field":"m","type":"quantitative","title":null,"scale":{"domain":[99.6,100.4],"nice":false,"zero":false},"axis":null}}}
],
"resolve":{"scale":{"y":"independent"}}},
{"width":604,"height":31,
"layer":[
{"layer":[
{"data":{"name":"macd"},"mark":{"type":"rule","color":"#b4b4b4","strokeWidth":2},"encoding":{"x":{"field":"i","type":"quantitative","title":null,"scale":{"domain":[-0.5,150.5],"nice":false,"zero":false,"padding":0},"axis":{"values":[-0.5,7.5,15.5,23.5,31.5,39.5,47.5,55.5,63.5,71.5,79.5,87.5,95.5,103.5,111.5,119.5,127.5,135.5,143.5],"labels":false,"ticks":false,"grid":true}},"y":{"field":"m","type":"quantitative","title":null,"scale":{"domain":[-0.00162,0.000545],"nice":false,"zero":false},"axis":null},"y2":{"datum":0}}},
{"data":{"name":"msig"},"mark":{"type":"line","color":"#e03030","strokeWidth":3},"encoding":{"x":{"field":"i","type":"quantitative","title":null},"y":{"field":"v","type":"quantitative","title":null,"axis":null}}},
{"data":{"values":[{}]},"mark":{"type":"text","text":"MACD(12,26,9) -0.000448 -0.000674  CCI(14) 144.1679","align":"left","baseline":"middle","color":"black"},"encoding":{"x":{"datum":0.75,"type":"quantitative","title":null},"y":{"datum":-0.00003,"type":"quantitative","axis":null}}},
{"data":{"values":[{}]},"mark":{"type":"text","text":"0.000545","align":"left","baseline":"middle","dy":6,"fontSize":7.5,"color":"black"},"encoding":{"x":{"datum":151.2,"type":"quantitative","title":null},"y":{"datum":0.000545,"type":"quantitative","axis":null}}},
{"data":{"values":[{}]},"mark":{"type":"text","text":"-0.00162","align":"left","baseline":"middle","dy":-6,"fontSize":7.5,"color":"black"},"encoding":{"x":{"datum":151.2,"type":"quantitative","title":null},"y":{"datum":-0.00162,"type":"quantitative","axis":null}}}
]},
{"layer":[
{"data":{"name":"ccilv"},"mark":{"type":"rule","color":"#a8a8a8","strokeDash":[2,2]},"encoding":{"y":{"field":"v","type":"quantitative","title":null,"scale":{"domain":[-404,340],"nice":false,"zero":false},"axis":null}}},
{"data":{"name":"cci"},"mark":{"type":"line","color":"#3aa88e","strokeWidth":2},"encoding":{"x":{"field":"i","type":"quantitative","title":null},"y":{"field":"v","type":"quantitative","title":null,"axis":null}}},
{"data":{"values":[{}]},"mark":{"type":"text","text":"100","align":"left","baseline":"middle","fontSize":8,"color":"black"},"encoding":{"x":{"datum":151.2,"type":"quantitative","title":null},"y":{"datum":100,"type":"quantitative","axis":null}}},
{"data":{"values":[{}]},"mark":{"type":"text","text":"-100","align":"left","baseline":"middle","fontSize":8,"color":"black"},"encoding":{"x":{"datum":151.2,"type":"quantitative","title":null},"y":{"datum":-100,"type":"quantitative","axis":null}}}
]}
],
"resolve":{"scale":{"y":"independent"}}},
{"width":604,"height":27,
"layer":[
{"data":{"name":"rsilv"},"mark":{"type":"rule","color":"#a8a8a8","strokeDash":[3,3]},"encoding":{"y":{"field":"v","type":"quantitative","title":null,"scale":{"domain":[0,100],"nice":false},"axis":null}}},
{"data":{"name":"rsi"},"mark":{"type":"line","color":"#3a8fd0","strokeWidth":2},"encoding":{"x":{"field":"i","type":"quantitative","title":null,"scale":{"domain":[-0.5,150.5],"nice":false,"zero":false,"padding":0},"axis":{"values":[-0.5,7.5,15.5,23.5,31.5,39.5,47.5,55.5,63.5,71.5,79.5,87.5,95.5,103.5,111.5,119.5,127.5,135.5,143.5],"grid":true,"labelAlign":"left","labelPadding":0,"tickSize":3,"labelOverlap":false,"labelBound":false,"labelFlush":false,"tickOpacity":{"condition":{"test":"(datum.value + 0.5) % 16 == 0","value":1},"value":0},"labelExpr":"datum.value == -0.5 ? '10 May 2012' : datum.value == 15.5 ? '10 May 17:00' : datum.value == 31.5 ? '11 May 01:00' : datum.value == 47.5 ? '11 May 09:00' : datum.value == 63.5 ? '11 May 17:00' : datum.value == 79.5 ? '14 May 01:00' : datum.value == 95.5 ? '14 May 09:00' : datum.value == 111.5 ? '14 May 17:00' : datum.value == 127.5 ? '15 May 01:00' : ''"}},"y":{"field":"v","type":"quantitative","title":null,"axis":null}}},
{"data":{"values":[{}]},"mark":{"type":"text","text":"RSI(14) 51.0675","align":"left","baseline":"middle","color":"black"},"encoding":{"x":{"datum":0.75,"type":"quantitative","title":null},"y":{"datum":66,"type":"quantitative","axis":null}}},
{"data":{"values":[{}]},"mark":{"type":"text","text":"Axiory MetaTrader 4, © 2001-2011 MetaQuotes Software Corp.","align":"left","baseline":"middle","color":"black"},"encoding":{"x":{"datum":0.75,"type":"quantitative","title":null},"y":{"datum":24,"type":"quantitative","axis":null}}},
{"data":{"values":[{}]},"mark":{"type":"text","text":"100","align":"left","baseline":"middle","dy":7,"fontSize":8.5,"color":"black"},"encoding":{"x":{"datum":151.2,"type":"quantitative","title":null},"y":{"datum":100,"type":"quantitative","axis":null}}},
{"data":{"values":[{}]},"mark":{"type":"text","text":"70","align":"left","baseline":"middle","fontSize":8.5,"color":"black"},"encoding":{"x":{"datum":151.2,"type":"quantitative","title":null},"y":{"datum":70,"type":"quantitative","axis":null}}},
{"data":{"values":[{}]},"mark":{"type":"text","text":"30","align":"left","baseline":"middle","fontSize":8.5,"color":"black"},"encoding":{"x":{"datum":151.2,"type":"quantitative","title":null},"y":{"datum":30,"type":"quantitative","axis":null}}},
{"data":{"values":[{}]},"mark":{"type":"text","text":"0","align":"left","baseline":"middle","dy":-6,"fontSize":8.5,"color":"black"},"encoding":{"x":{"datum":151.2,"type":"quantitative","title":null},"y":{"datum":0,"type":"quantitative","axis":null}}}
]}
]
}
